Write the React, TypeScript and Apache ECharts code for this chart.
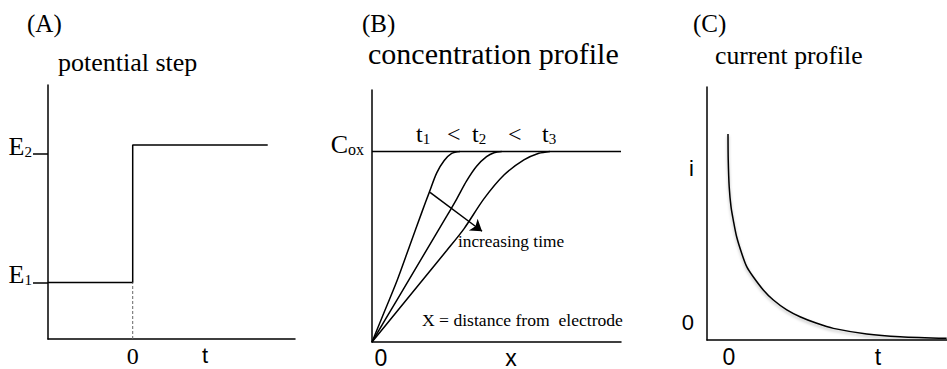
import React, { useEffect, useRef } from 'react';
import * as echarts from 'echarts';

const SERIF = '"Liberation Serif", "Times New Roman", serif';
const SANS = '"Liberation Sans", Arial, sans-serif';

// ---------- Panel A: potential step ----------
const stepA: number[][] = [[-1, 1], [0, 1], [0, 3.43], [1.594, 3.43]];
const dashA: number[][] = [[0, 0], [0, 1]];
const aYTickValues = [1, 3.27];
const aYTickSubs = ['1', '2'];
const aXTickValues = [0, 0.854];
const aXTickNames = ['0', 't'];

// ---------- Panel B: concentration profile ----------
const coxB: number[][] = [[0, 1], [10, 1]];
const curveT1: number[][] = [[0, 0], [0.5, 0.16], [1.0, 0.32], [1.5, 0.5], [2.0, 0.68], [2.3, 0.785], [2.6, 0.887], [2.9, 0.952], [3.2, 0.99], [3.534, 1]];
const curveT2: number[][] = [[0, 0], [1, 0.22], [2, 0.44], [3, 0.66], [3.4, 0.75], [3.8, 0.845], [4.2, 0.922], [4.6, 0.972], [4.9, 0.993], [5.209, 1]];
const curveT3: number[][] = [[0, 0], [1, 0.16], [2, 0.32], [3, 0.48], [3.7, 0.595], [4.5, 0.752], [5.3, 0.876], [6.1, 0.955], [6.7, 0.99], [7.149, 1]];
const arrowB: number[][] = [[2.33, 0.785], [4.42, 0.581]];
const bXTickValues = [0.36, 5.58];
const bXTickNames = ['0', 'x'];
const bYTickValues = [1];

// ---------- Panel C: current profile ----------
const currentC: number[][] = [
  [0, 8.14], [0.01, 7.11], [0.05, 6.06], [0.125, 5.27], [0.22, 4.74], [0.36, 4.08],
  [0.57, 3.43], [0.78, 2.9], [1.05, 2.5], [1.47, 1.98], [1.89, 1.58], [2.45, 1.19],
  [3.0, 0.92], [3.7, 0.66], [4.39, 0.46], [5.78, 0.24], [7.17, 0.13], [9.11, 0.067],
];
const cXTickValues = [0.04, 6.25];
const cXTickNames = ['0', 't'];
const cYTickValues = [6.76, 0.69];
const cYTickNames = ['i', '0'];

function pick(values: number[], names: string[], v: number) {
  const i = values.findIndex((x) => Math.abs(x - v) < 1e-6);
  return i >= 0 ? names[i] : '';
}

const axisLine = { show: true, onZero: false, lineStyle: { color: '#000', width: 1.5 } };
const black = { color: '#000', width: 1.5 };

export default function App() {
  const ref = useRef<HTMLDivElement>(null);
  useEffect(() => {
    if (!ref.current) return;
    const chart = echarts.init(ref.current, undefined, { renderer: 'svg' });
    const line = (data: number[][], idx: number, extra: any = {}) => ({
      type: 'line',
      xAxisIndex: idx,
      yAxisIndex: idx,
      data,
      symbol: 'none',
      showSymbol: false,
      lineStyle: { ...black },
      ...extra,
    });
    const option: any = {
      animation: false,
      backgroundColor: '#fff',
      grid: [
        { left: 48, top: 85, width: 247, height: 254 },
        { left: 372, top: 90, width: 249, height: 253 },
        { left: 707, top: 87, width: 240, height: 253 },
      ],
      xAxis: [
        {
          gridIndex: 0, type: 'value', min: -1, max: 1.916,
          axisLine, splitLine: { show: false }, axisTick: { show: false },
          axisLabel: {
            customValues: aXTickValues, margin: 5,
            formatter: (v: number) => {
              const n = pick(aXTickValues, aXTickNames, v);
              return n === '0' ? '{s|0}' : '{a|' + n + '}';
            },
            rich: {
              s: { fontFamily: SERIF, fontSize: 24, color: '#000' },
              a: { fontFamily: SANS, fontSize: 22, color: '#000' },
            },
          },
        },
        {
          gridIndex: 1, type: 'value', min: 0, max: 10,
          axisLine, splitLine: { show: false }, axisTick: { show: false },
          axisLabel: {
            customValues: bXTickValues, margin: 4, fontFamily: SANS, fontSize: 23, color: '#000',
            formatter: (v: number) => pick(bXTickValues, bXTickNames, v),
          },
        },
        {
          gridIndex: 2, type: 'value', min: -0.875, max: 9.125,
          axisLine, splitLine: { show: false }, axisTick: { show: false },
          axisLabel: {
            customValues: cXTickValues, margin: 5, fontFamily: SANS, fontSize: 23, color: '#000',
            formatter: (v: number) => pick(cXTickValues, cXTickNames, v),
          },
        },
      ],
      yAxis: [
        {
          gridIndex: 0, type: 'value', min: 0, max: 4.49,
          axisLine, splitLine: { show: false },
          axisTick: { show: true, customValues: aYTickValues, length: 15, lineStyle: black },
          axisLabel: {
            customValues: aYTickValues, margin: 16, padding: [0, 0, 16, 0],
            formatter: (v: number) => '{e|E}{s|' + pick(aYTickValues, aYTickSubs, v) + '}',
            rich: {
              e: { fontFamily: SERIF, fontSize: 26, color: '#000', verticalAlign: 'bottom', lineHeight: 26 },
              s: { fontFamily: SERIF, fontSize: 15, color: '#000', verticalAlign: 'bottom', lineHeight: 13 },
            },
          },
        },
        {
          gridIndex: 1, type: 'value', min: 0, max: 1.322,
          axisLine, splitLine: { show: false }, axisTick: { show: false },
          axisLabel: {
            customValues: bYTickValues, margin: 8, padding: [0, 0, 14, 0],
            formatter: () => '{c|C}{s|ox}',
            rich: {
              c: { fontFamily: SERIF, fontSize: 26, color: '#000', verticalAlign: 'bottom', lineHeight: 26 },
              s: { fontFamily: SERIF, fontSize: 16, color: '#000', verticalAlign: 'bottom', lineHeight: 12 },
            },
          },
        },
        {
          gridIndex: 2, type: 'value', min: 0, max: 10,
          axisLine, splitLine: { show: false }, axisTick: { show: false },
          axisLabel: {
            customValues: cYTickValues, margin: 13, fontFamily: SANS, fontSize: 22, color: '#000',
            formatter: (v: number) => pick(cYTickValues, cYTickNames, v),
          },
        },
      ],
      series: [
        line(stepA, 0),
        line(dashA, 0, { lineStyle: { color: '#666', width: 1, type: [3, 2] } }),
        line(coxB, 1),
        line(curveT1, 1, { smooth: 0.3 }),
        line(curveT2, 1, { smooth: 0.3 }),
        line(curveT3, 1, { smooth: 0.3 }),
        {
          type: 'lines', coordinateSystem: 'cartesian2d', xAxisIndex: 1, yAxisIndex: 1,
          data: [{ coords: arrowB }],
          symbol: ['none', 'arrow'],
          symbolSize: 11,
          lineStyle: { color: '#000', width: 1.5, opacity: 1 },
        },
        line(currentC, 2, {
          smooth: 0.3,
          lineStyle: { color: '#000', width: 1.5, shadowColor: 'rgba(0,0,0,0.3)', shadowBlur: 3, shadowOffsetY: 2 },
        }),
      ],
      graphic: [
        { type: 'text', x: 27, y: 11, style: { text: '(A)', font: `25px ${SERIF}`, fill: '#000' } },
        { type: 'text', x: 58, y: 49, style: { text: 'potential step', font: `26px ${SERIF}`, fill: '#000' } },
        { type: 'text', x: 362, y: 11, style: { text: '(B)', font: `25px ${SERIF}`, fill: '#000' } },
        { type: 'text', x: 368, y: 38, style: { text: 'concentration profile', font: `30px ${SERIF}`, fill: '#000' } },
        { type: 'text', x: 693, y: 11, style: { text: '(C)', font: `25px ${SERIF}`, fill: '#000' } },
        { type: 'text', x: 715, y: 42, style: { text: 'current profile', font: `25.7px ${SERIF}`, fill: '#000' } },
        { type: 'text', x: 458, y: 233, style: { text: 'increasing time', font: `17.3px ${SERIF}`, fill: '#000' } },
        { type: 'text', x: 422, y: 311, style: { text: 'X = distance from  electrode', font: `17.6px ${SERIF}`, fill: '#000' } },
        ...[
          { x: 416, t: 't', s: '1' },
          { x: 447, t: '<', s: '' },
          { x: 472, t: 't', s: '2' },
          { x: 508, t: '<', s: '' },
          { x: 542, t: 't', s: '3' },
        ].map((p) => ({
          type: 'text', x: p.x, y: 122,
          style: {
            text: '{t|' + p.t + '}' + (p.s ? '{s|' + p.s + '}' : ''),
            rich: {
              t: { fontFamily: SERIF, fontSize: 24, fill: '#000', verticalAlign: 'bottom', lineHeight: 24 },
              s: { fontFamily: SERIF, fontSize: 15, fill: '#000', verticalAlign: 'bottom', lineHeight: 13 },
            },
          },
        })),
      ],
    };
    chart.setOption(option);
    return () => chart.dispose();
  }, []);
  return (
    <div
      ref={ref}
      style={{ position: 'fixed', left: 0, top: 0, width: 947, height: 369, background: '#fff' }}
    />
  );
}
